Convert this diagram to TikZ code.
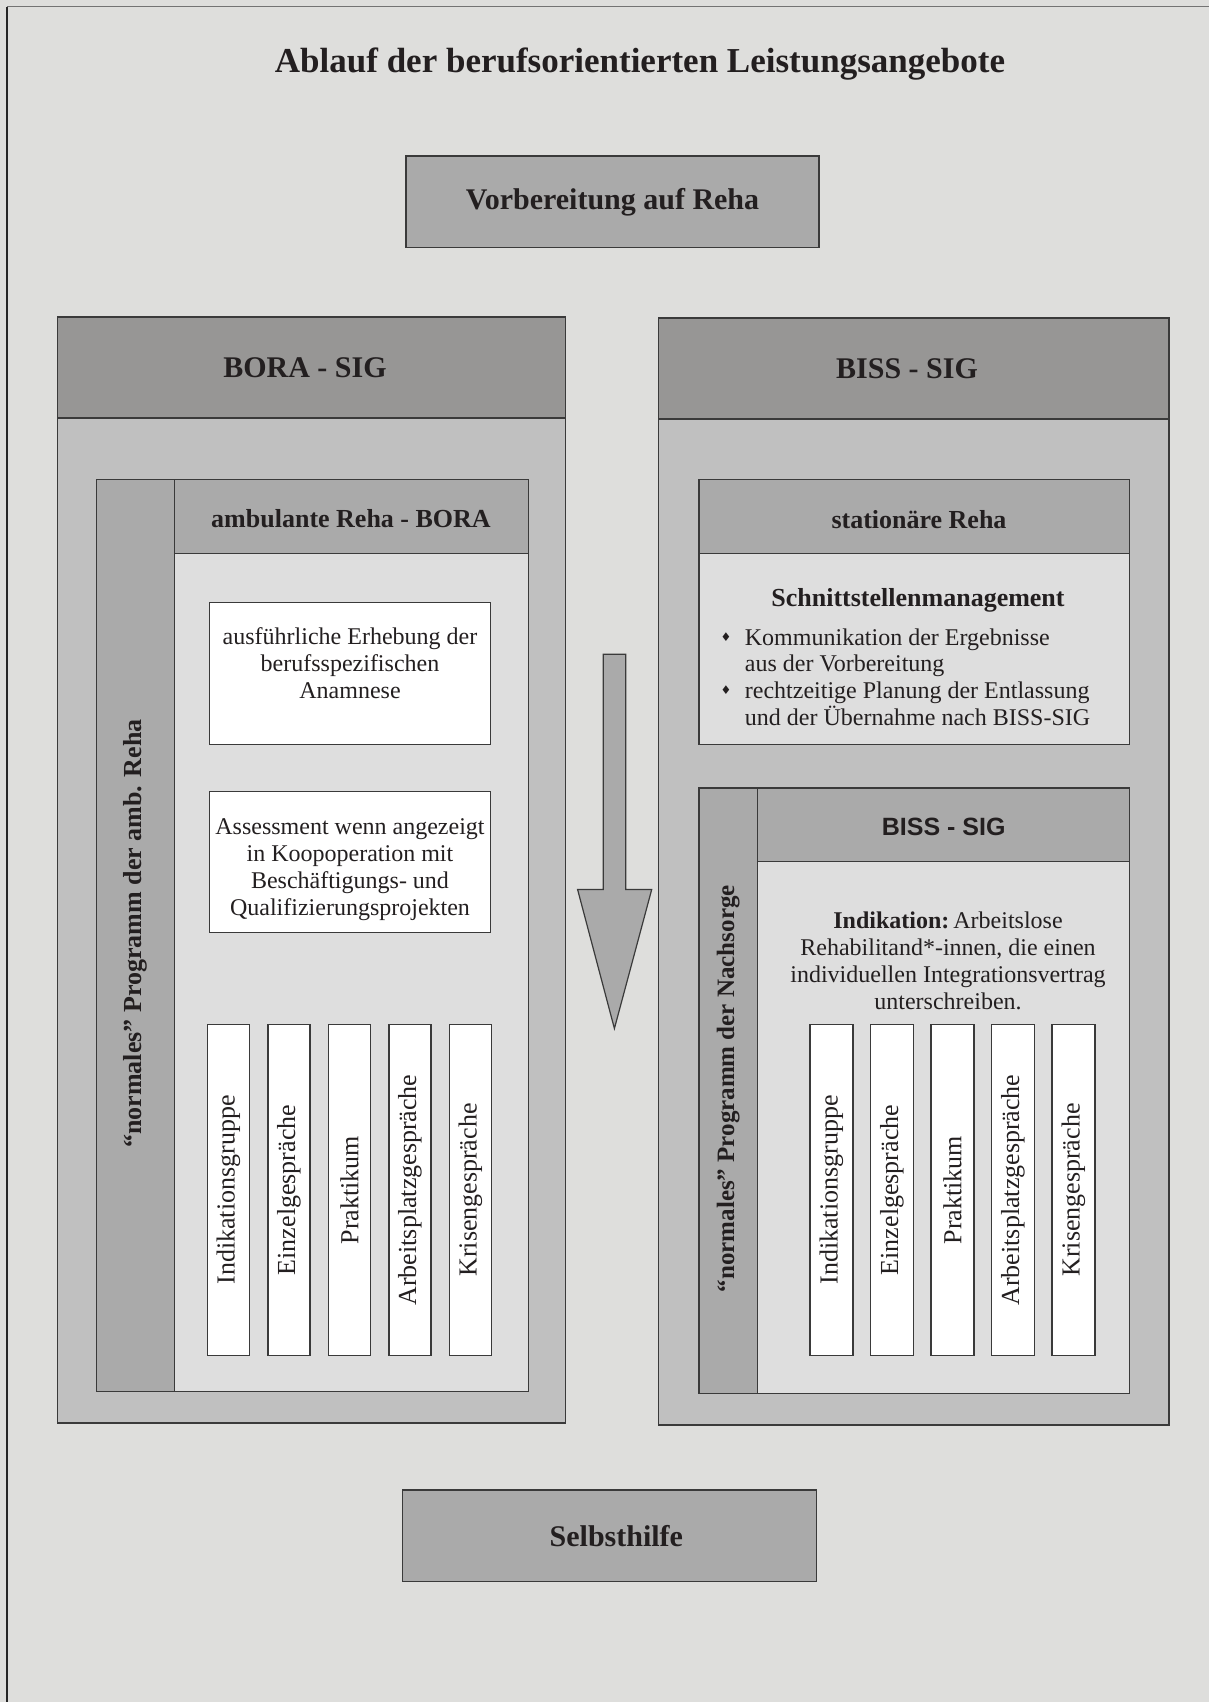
\documentclass[tikz,border=0pt]{standalone}
\usepackage{fontspec}
\usetikzlibrary{calc}
\setmainfont{Liberation Serif}
\newfontfamily\sansfam{Liberation Sans}
\newfontfamily\symfam{DejaVu Sans}
\definecolor{bgc}{HTML}{DEDEDC}
\definecolor{grpc}{HTML}{C0C0C0}
\definecolor{grphead}{HTML}{979695}
\definecolor{midc}{HTML}{AAAAAA}
\definecolor{bodyc}{HTML}{DEDEDE}
\definecolor{edgec}{HTML}{3A3A3A}
\definecolor{inkc}{HTML}{231F20}
\newcommand\fsz[2]{\fontsize{#1}{#2}\selectfont}
\newcommand\rbox[6]{\node[box,#6,minimum width={(#4-#2)*0.5pt},minimum height={(#5-#3)*0.5pt}] (#1) at (#2,#3) {};}
\begin{document}
\begin{tikzpicture}[x=0.5pt,y=-0.5pt,
  box/.style={draw=edgec, line width=0.6pt, inner sep=0pt, outer sep=0pt, anchor=north west},
  txt/.style={inner sep=0pt, align=center, text=inkc},
  bigb/.style={txt, font=\fsz{15pt}{18pt}\bfseries},
  medb/.style={txt, font=\fsz{13pt}{15pt}\bfseries},
  body/.style={txt, font=\fsz{12pt}{13.5pt}},
  vert/.style={txt, rotate=90, font=\fsz{13pt}{15pt}},
  bul/.style={inner sep=0pt, text=inkc, font=\symfam\fsz{6pt}{7pt}},
  bline/.style={inner sep=0pt, anchor=base west, text=inkc, font=\fsz{12pt}{13.5pt}}
]
\useasboundingbox (0,0) rectangle (1209,1702);
\fill[bgc] (0,0) rectangle (1209,1702);
\draw[gray!90!black, line width=0.8pt] (1209,6.6) -- (7.2,6.6);
\draw[black!85, line width=0.8pt] (7.2,6.6) -- (7.2,1702);

% title
\node[txt, anchor=base, font=\fsz{17.5pt}{21pt}\bfseries] (title) at (640,73) {Ablauf der berufsorientierten Leistungsangebote};

% Vorbereitung
\rbox{vorb}{406}{156}{819}{247.5}{fill=midc}
\node[bigb] (vorbt) at (vorb.center) {Vorbereitung auf Reha};

% BORA - SIG group
\rbox{bora}{57.5}{317}{565.4}{1423}{fill=grpc}
\rbox{borah}{57.5}{317}{565.4}{418}{fill=grphead}
\node[bigb] (borat) at (305,367.5) {BORA - SIG};

% BISS - SIG group
\rbox{biss}{658.8}{318}{1168.9}{1425}{fill=grpc}
\rbox{bissh}{658.8}{318}{1168.9}{419}{fill=grphead}
\node[bigb] (bisst) at (907,368.5) {BISS - SIG};

% ambulante Reha
\rbox{amb}{96.6}{479.7}{528.5}{1391.3}{fill=bodyc}
\rbox{ambside}{96.6}{479.7}{174.7}{1391.3}{fill=midc}
\rbox{ambh}{174.7}{479.7}{528.5}{553.5}{fill=midc}
\node[medb] (ambt) at (351,518.6) {ambulante Reha - BORA};
\node[vert, font=\fsz{13pt}{15pt}\bfseries] (ambsidet) at ($(ambside.center)+(0,-2)$) {“normales” Programm der amb. Reha};
\rbox{wb1}{209.5}{602.3}{490.6}{744.5}{fill=white}
\node[body] (wb1t) at (350,663.5) {ausführliche Erhebung der\\berufsspezifischen\\Anamnese};
\rbox{wb2}{209.5}{791.2}{490.6}{932.3}{fill=white}
\node[body] (wb2t) at (350,869.5) {Assessment wenn angezeigt\\in Koopoperation mit\\Beschäftigungs- und\\Qualifizierungsprojekten};
\foreach \i/\t in {1/Indikationsgruppe,2/Einzelgespräche,3/Praktikum,4/Arbeitsplatzgespräche,5/Krisengespräche}{
  \node[box, fill=white, minimum width=21pt, minimum height=165.5pt] (l\i) at ({207.5+(\i-1)*60.5},1024.5) {};
  \node[vert] (lt\i) at (l\i.center) {\t};
}

% stationaere Reha
\rbox{stat}{698.9}{479.7}{1129.8}{744.5}{fill=bodyc}
\rbox{stath}{698.9}{479.7}{1129.8}{553.5}{fill=midc}
\node[medb] (statt) at (919,520) {stationäre Reha};
\node[medb] (schn) at (918,600) {Schnittstellenmanagement};
\node[bul] (b1) at (726,637) {♦};
\node[bline] (s1) at (744.5,645.5) {Kommunikation der Ergebnisse};
\node[bline] (s2) at (744.5,671.5) {aus der Vorbereitung};
\node[bul] (b2) at (726,690) {♦};
\node[bline] (s3) at (744.5,698.5) {rechtzeitige Planung der Entlassung};
\node[bline] (s4) at (744.5,725.5) {und der Übernahme nach BISS-SIG};

% Nachsorge
\rbox{nach}{698.9}{787.9}{1129.8}{1393.5}{fill=bodyc}
\rbox{nachside}{698.9}{787.9}{757.5}{1393.5}{fill=midc}
\rbox{nachh}{757.5}{787.9}{1129.8}{861.7}{fill=midc}
\node[txt, font=\sansfam\fsz{12.5pt}{15pt}\bfseries] (nacht) at (943.7,826.8) {BISS - SIG};
\node[vert, font=\fsz{12.5pt}{15pt}\bfseries] (nachsidet) at ($(nachside.center)+(0,-2)$) {“normales” Programm der Nachsorge};
\node[body] (indt) at (948,960.5) {\textbf{Indikation:}\,Arbeitslose\\Rehabilitand*-innen, die einen\\individuellen Integrationsvertrag\\unterschreiben.};
\foreach \i/\t in {1/Indikationsgruppe,2/Einzelgespräche,3/Praktikum,4/Arbeitsplatzgespräche,5/Krisengespräche}{
  \node[box, fill=white, minimum width=21.5pt, minimum height=165.5pt] (r\i) at ({810+(\i-1)*60.5},1024.5) {};
  \node[vert] (rt\i) at (r\i.center) {\t};
}

% flow arrow
\draw[edgec, line width=0.6pt, fill=midc] (603.3,654.2) -- (625.8,654.2) -- (625.8,889.5) -- (651.7,889.5) -- (614.4,1028.5) -- (577.6,889.5) -- (603.3,889.5) -- cycle;

% Selbsthilfe
\rbox{selb}{402.6}{1490}{816.1}{1581.3}{fill=midc}
\node[bigb] (selbt) at ($(selb.center)+(7,0)$) {Selbsthilfe};
\end{tikzpicture}
\end{document}
